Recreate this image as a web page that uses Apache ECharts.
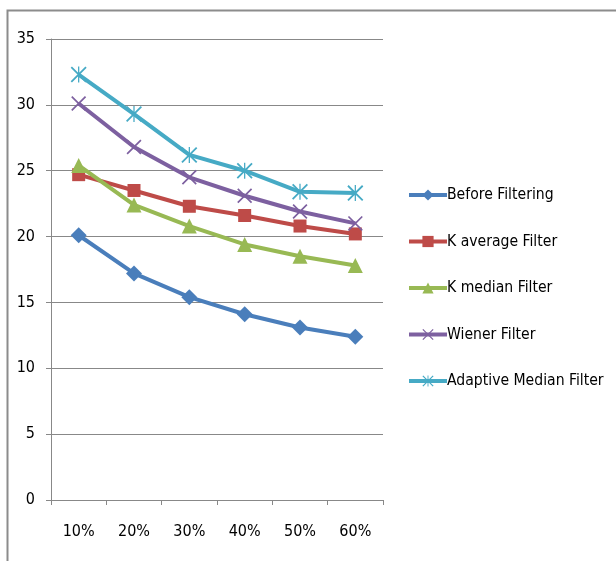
<!DOCTYPE html>
<html><head><meta charset="utf-8">
<script src="https://cdn.jsdelivr.net/npm/echarts@6/dist/echarts.min.js"></script>
<style>html,body{margin:0;padding:0;background:#fff}#c{width:616px;height:561px}</style>
</head><body><div id="c"></div>
<script>
const categories = ['10%', '20%', '30%', '40%', '50%', '60%'];
const beforeFiltering = [20.1, 17.2, 15.4, 14.1, 13.1, 12.4];
const kAverage = [24.7, 23.5, 22.3, 21.6, 20.8, 20.2];
const kMedian = [25.4, 22.4, 20.8, 19.4, 18.5, 17.8];
const wiener = [30.1, 26.8, 24.5, 23.1, 21.9, 21.0];
const adaptiveMedian = [32.3, 29.3, 26.2, 25.0, 23.4, 23.3];
const seriesNames = ['Before Filtering', 'K average Filter', 'K median Filter', 'Wiener Filter', 'Adaptive Median Filter'];
const yTicks = [0, 5, 10, 15, 20, 25, 30, 35];

const FONT = '"DejaVu Sans Condensed", "Liberation Sans Narrow", "Noto Sans", sans-serif';
const xPath = 'path://M0,8 L8,0 L100,92 L92,100 Z M92,0 L100,8 L8,100 L0,92 Z';
const starPath = 'path://M0,8 L8,0 L100,92 L92,100 Z M92,0 L100,8 L8,100 L0,92 Z M46,0 L54,0 L54,100 L46,100 Z';
const colors = ['#4A7EBB', '#BE4B48', '#98B954', '#7D60A0', '#46AAC5'];
const symbols = ['diamond', 'rect', 'triangle', xPath, starPath];
const sizes = [16, 13, 15, 15, 16];
const dataSets = [beforeFiltering, kAverage, kMedian, wiener, adaptiveMedian];

const chart = echarts.init(document.getElementById('c'));
chart.setOption({
  animation: false,
  backgroundColor: '#fff',
  color: colors,
  graphic: [{
    type: 'rect', shape: {x: 7.5, y: 10.5, width: 800, height: 800},
    style: {fill: 'none', stroke: '#8c8c8c', lineWidth: 2}, silent: true, z: -1
  }],
  grid: {left: 51, right: 233, top: 39, bottom: 61},
  legend: {
    orient: 'vertical', left: 402, top: 182,
    itemWidth: 38, itemHeight: 14, itemGap: 30.5,
    lineStyle: {width: 4},
    textStyle: {fontFamily: FONT, fontSize: 15.6, lineHeight: 16, color: '#000', padding: [0,0,0,-5]},
    data: seriesNames
  },
  xAxis: {
    type: 'category', data: categories, boundaryGap: true,
    axisLine: {lineStyle: {color: '#888', width: 1}},
    axisTick: {show: true, length: 5, interval: 0, lineStyle: {color: '#888'}},
    axisLabel: {fontFamily: FONT, fontSize: 16, color: '#000', margin: 24}
  },
  yAxis: {
    type: 'value', min: yTicks[0], max: yTicks[yTicks.length - 1], interval: 5,
    axisLine: {show: true, lineStyle: {color: '#888', width: 1}},
    axisTick: {show: true, length: 5, lineStyle: {color: '#888'}},
    splitLine: {lineStyle: {color: '#888', width: 1}},
    axisLabel: {fontFamily: FONT, fontSize: 16, color: '#000', margin: 16}
  },
  series: dataSets.map((d, i) => ({
    name: seriesNames[i], type: 'line', data: d,
    symbol: symbols[i], symbolSize: sizes[i], showSymbol: true,
    lineStyle: {width: 4, color: colors[i]},
    itemStyle: {color: colors[i]},
    z: 2 + i
  }))
});
</script></body></html>
